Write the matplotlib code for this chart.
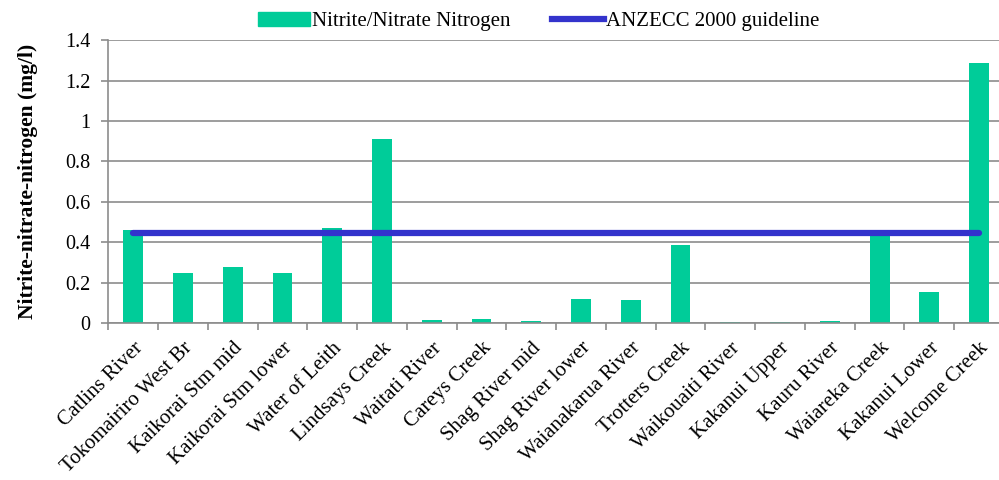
import numpy as np
import matplotlib
matplotlib.use("Agg")
from matplotlib import pyplot as plt
from matplotlib.patches import Patch
from matplotlib.lines import Line2D

sites = ["Catlins River", "Tokomairiro West Br", "Kaikorai Stm mid", "Kaikorai Stm lower",
         "Water of Leith", "Lindsays Creek", "Waitati River", "Careys Creek", "Shag River mid",
         "Shag River lower", "Waianakarua River", "Trotters Creek", "Waikouaiti River",
         "Kakanui Upper", "Kauru River", "Waiareka Creek", "Kakanui Lower", "Welcome Creek"]
nno = [0.46, 0.25, 0.28, 0.25, 0.47, 0.91, 0.017, 0.023, 0.013, 0.122, 0.116, 0.388,
       0.005, 0.007, 0.01, 0.43, 0.157, 1.288]
guideline = 0.444

plt.rcParams["font.family"] = ["Liberation Serif", "DejaVu Serif"]

fig = plt.figure(figsize=(9.99, 4.8), dpi=100)
# the last category runs slightly past the right edge of the figure
ax = fig.add_axes([0.1084, 0.3265, 0.8966, 0.590])

x = np.arange(len(sites))
ax.bar(x, nno, width=0.4, color="#00CC99", linewidth=0, zorder=2)
ax.plot(x, [guideline] * len(x), color="#3333CC", linewidth=4.5,
        solid_capstyle="round", zorder=3)

ax.set_xlim(-0.5, len(sites) - 0.5)
ax.set_ylim(0, 1.4)
ax.set_yticks(np.arange(0, 1.41, 0.2))
ax.set_yticklabels(["0", "0.2", "0.4", "0.6", "0.8", "1", "1.2", "1.4"], fontsize=14.5)
ax.yaxis.grid(True, color="#8c8c8c", linewidth=1.2, zorder=0)
ax.set_axisbelow(True)

# labels at bar centres, tick marks on the category boundaries
ax.set_xticks(x)
ax.set_xticklabels(sites, rotation=45, ha="right", rotation_mode="anchor", fontsize=15)
ax.tick_params(axis="x", which="major", length=0, pad=11)
ax.set_xticks(np.arange(-0.5, len(sites)), minor=True)
ax.tick_params(axis="x", which="minor", length=5, color="#8c8c8c", width=1.2)
ax.tick_params(axis="y", length=5, color="#8c8c8c", width=1.2, pad=8)

for side in ["top", "right"]:
    ax.spines[side].set_visible(False)
for side in ["left", "bottom"]:
    ax.spines[side].set_color("#8c8c8c")
    ax.spines[side].set_linewidth(1.2)

ax.set_ylabel("Nitrite-nitrate-nitrogen (mg/l)", fontsize=15.5, fontweight="bold")
ax.yaxis.set_label_coords(-0.078, 0.5)

handles = [Patch(color="#00CC99"), Line2D([], [], color="#3333CC", linewidth=4.5)]
fig.legend(handles, ["Nitrite/Nitrate Nitrogen", "ANZECC 2000 guideline"],
           loc="upper center", bbox_to_anchor=(0.539, 1.015), ncol=2, frameon=False,
           fontsize=15, handlelength=2.5, handletextpad=0.1, columnspacing=2.0)

fig.savefig("out.png", dpi=100)
